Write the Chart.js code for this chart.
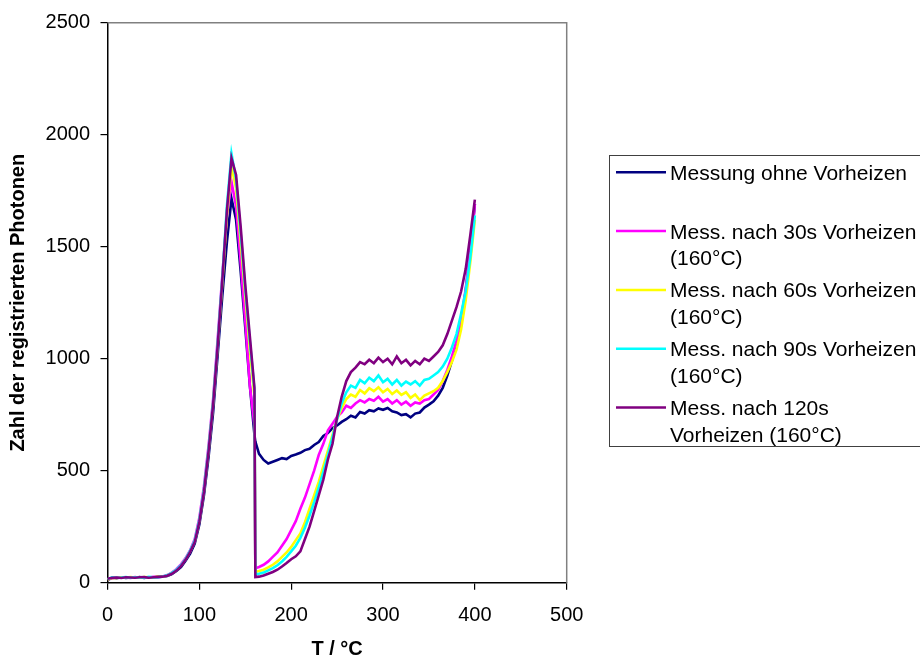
<!DOCTYPE html>
<html>
<head>
<meta charset="utf-8">
<script src="https://cdn.jsdelivr.net/npm/chart.js@4/dist/chart.umd.min.js"></script>
<style>
  body { margin: 0; background: #fff; }
  canvas { display: block; }
</style>
</head>
<body>
<canvas id="chartTL" width="920" height="659"></canvas>
<script>
// Temperatur (x)
const temps = [0,5,10,15,20,25,30,35,40,45,50,55,60,65,70,75,80,85,90,95,100,105,110,115,120,125,130,135,140,145,150,155,160,161,
  165,170,175,180,185,190,195,200,205,210,215,220,225,230,235,240,245,250,255,260,265,270,275,280,285,290,295,300,
  305,310,315,320,325,330,335,340,345,350,355,360,365,370,375,380,385,390,395,400];

// Messreihen (Photonen)
const ohne = [12,22,20,24,21,23,22,25,21,24,23,26,27,30,38,52,70,98,130,175,260,390,560,760,1020,1280,1520,1715,1620,1390,1140,880,660,630,
  575,548,532,540,548,556,552,566,572,580,592,598,615,628,655,668,690,702,718,730,745,738,762,755,770,765,778,772,
  780,765,760,748,752,738,755,760,782,795,810,835,870,925,990,1060,1160,1300,1480,1690];
const v30 = [15,20,24,22,23,21,25,22,24,23,26,25,28,34,45,60,82,110,145,195,290,430,610,820,1090,1370,1640,1790,1680,1430,1170,880,700,65,
  70,80,95,115,135,165,195,235,275,330,380,440,500,570,620,680,710,740,760,790,780,800,815,805,820,812,830,808,
  820,800,815,795,808,790,805,800,815,820,840,860,900,950,1010,1080,1180,1310,1480,1690];
const v60 = [14,22,21,24,22,25,23,22,25,24,23,27,27,32,42,56,76,105,140,185,275,410,590,800,1060,1340,1640,1860,1760,1520,1280,1040,830,48,
  52,58,68,80,95,115,135,160,190,220,270,330,390,450,520,590,660,730,780,820,840,830,860,845,868,855,872,850,
  865,842,858,838,850,825,840,815,835,845,855,870,900,940,985,1040,1130,1260,1430,1620];
const v90 = [16,24,22,23,25,22,24,23,22,26,24,25,28,33,44,58,78,106,142,188,280,415,595,805,1070,1360,1680,1915,1800,1560,1310,1080,860,38,
  40,45,55,65,78,95,115,140,165,200,245,300,360,425,495,570,650,730,800,850,880,870,905,890,915,900,925,895,
  910,885,905,880,898,885,900,880,905,910,925,940,965,1000,1050,1110,1200,1300,1450,1640];
const v120 = [18,22,23,21,24,23,22,24,25,22,24,26,27,31,40,54,74,102,138,182,272,405,585,795,1060,1350,1660,1895,1820,1590,1330,1100,870,25,
  27,32,40,48,58,72,88,105,118,140,195,250,320,390,460,550,620,740,830,900,940,960,985,975,995,980,1005,985,
  1000,975,1010,980,995,970,990,975,1000,990,1010,1030,1060,1110,1170,1230,1300,1400,1550,1710];

const seriesNames = [
  ['Messung ohne Vorheizen', ''],
  ['Mess. nach 30s Vorheizen', '(160°C)'],
  ['Mess. nach 60s Vorheizen', '(160°C)'],
  ['Mess. nach 90s Vorheizen', '(160°C)'],
  ['Mess. nach 120s', 'Vorheizen (160°C)']
];
const seriesColors = ['#000080', '#FF00FF', '#FFFF00', '#00FFFF', '#800080'];
const allSeries = [ohne, v30, v60, v90, v120];

const xTicks = [0, 100, 200, 300, 400, 500];
const yTicks = [0, 500, 1000, 1500, 2000, 2500];

const FONT = 'Arial, "Liberation Sans", sans-serif';

// Rahmen oben/rechts + Legende
const framePlugin = {
  id: 'frameLegend',
  beforeDatasetsDraw(chart) {
    const { ctx, chartArea: a } = chart;
    ctx.save();
    ctx.strokeStyle = '#808080';
    ctx.lineWidth = 1.5;
    ctx.beginPath();
    ctx.moveTo(a.left, a.top);
    ctx.lineTo(a.right, a.top);
    ctx.lineTo(a.right, a.bottom);
    ctx.stroke();
    ctx.restore();
  },
  afterDraw(chart) {
    const ctx = chart.ctx;
    ctx.save();
    ctx.strokeStyle = '#404040';
    ctx.lineWidth = 1;
    ctx.strokeRect(609.5, 155.5, 330, 291);
    ctx.font = '21px ' + FONT;
    ctx.fillStyle = '#000';
    ctx.textBaseline = 'alphabetic';
    seriesNames.forEach((lines, i) => {
      const y = 172.3 + i * 58.8;
      ctx.strokeStyle = seriesColors[i];
      ctx.lineWidth = 2.5;
      ctx.beginPath();
      ctx.moveTo(616, y);
      ctx.lineTo(666, y);
      ctx.stroke();
      lines.forEach((t, j) => ctx.fillText(t, 670, y + 7.5 + j * 26.7));
    });
    ctx.restore();
  }
};

new Chart(document.getElementById('chartTL'), {
  type: 'line',
  data: {
    datasets: allSeries.map((s, i) => ({
      label: seriesNames[i].join(' '),
      data: temps.map((t, k) => ({ x: t, y: s[k] })),
      borderColor: seriesColors[i],
      borderWidth: 2.6,
      pointRadius: 0,
      tension: 0,
      order: allSeries.length - i
    }))
  },
  options: {
    responsive: false,
    animation: false,
    layout: { padding: { left: 0, top: 22.7, right: 353.3, bottom: 0 } },
    plugins: { legend: { display: false }, tooltip: { enabled: false } },
    scales: {
      x: {
        type: 'linear',
        min: 0,
        max: 500,
        afterFit(s) { s.height = 76.3; },
        afterBuildTicks(s) { s.ticks = xTicks.map(v => ({ value: v })); },
        ticks: { color: '#000', font: { family: FONT, size: 20 }, padding: 14, maxRotation: 0, callback: v => String(v) },
        grid: { drawOnChartArea: false, drawTicks: true, tickLength: 7, color: '#000', lineWidth: 1.2 },
        border: { display: true, color: '#000', width: 1.5 },
        title: { display: true, text: 'T / °C', color: '#000', font: { family: FONT, size: 20, weight: 'bold', lineHeight: 1 }, padding: 0 }
      },
      y: {
        min: 0,
        max: 2500,
        afterFit(s) { s.width = 107.5; },
        afterBuildTicks(s) { s.ticks = yTicks.map(v => ({ value: v })); },
        ticks: { color: '#000', font: { family: FONT, size: 20 }, padding: 10.5, callback: v => String(v) },
        grid: { drawOnChartArea: false, drawTicks: true, tickLength: 7, color: '#000', lineWidth: 1.2 },
        border: { display: true, color: '#000', width: 1.5 },
        title: { display: true, text: 'Zahl der registrierten Photonen', color: '#000', font: { family: FONT, size: 20, weight: 'bold', lineHeight: 1.2 }, padding: { top: 6, bottom: 0 } }
      }
    }
  },
  plugins: [framePlugin]
});
</script>
</body>
</html>
